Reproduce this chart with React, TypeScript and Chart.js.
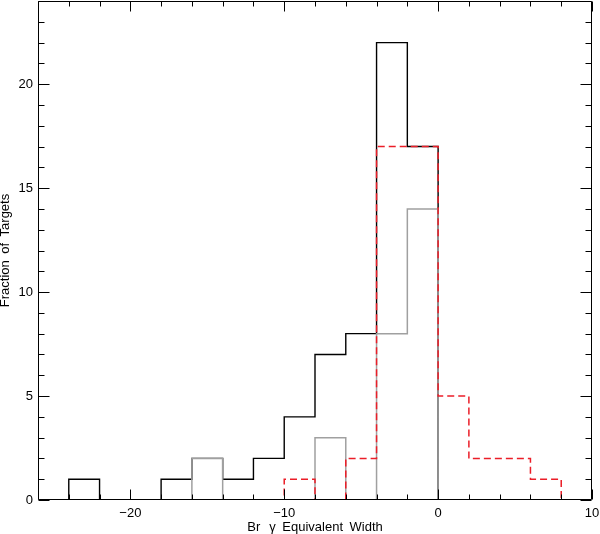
import React, { useEffect, useRef } from "react";
import { Chart, registerables } from "chart.js";

Chart.register(...registerables);

// Histogram bins: width 2, starting at -24
const binEdges = [-24, -22, -20, -18, -16, -14, -12, -10, -8, -6, -4, -2, 0, 2, 4, 6, 8];
const allTargets = [1, 0, 0, 1, 2, 1, 2, 4, 7, 8, 22, 17, 0, 0, 0, 0];
const graySubset = [0, 0, 0, 0, 2, 0, 0, 0, 3, 0, 8, 14, 0, 0, 0, 0];
const redSubset = [0, 0, 0, 0, 0, 0, 0, 1, 0, 2, 17, 17, 5, 2, 2, 1];

const xTicks = [-20, -10, 0, 10];
const yTicks = [0, 5, 10, 15, 20];
const xMinorStep = 2;
const yMinorStep = 1;
const xMin = -26, xMax = 10, yMin = 0, yMax = 24;

function stepPoints(values: number[]) {
  const pts: { x: number; y: number }[] = [{ x: binEdges[0], y: 0 }];
  values.forEach((v, i) => pts.push({ x: binEdges[i], y: v }));
  pts.push({ x: binEdges[binEdges.length - 1], y: 0 });
  return pts;
}

const zeroPad = (s: any) => {
  s.paddingLeft = 0; s.paddingRight = 0; s.paddingTop = 0; s.paddingBottom = 0;
};

const frameTicks = {
  id: "frameTicks",
  afterDraw(chart: any) {
    const { ctx, chartArea: a, scales } = chart;
    const x = scales.x, y = scales.y;
    ctx.save();
    ctx.strokeStyle = "#000";
    ctx.lineWidth = 1;
    const L = Math.round(a.left) + 0.5, R = Math.round(a.right) - 0.5;
    const T = Math.round(a.top) + 0.5, B = Math.round(a.bottom) - 0.5;
    ctx.beginPath();
    ctx.rect(L, T, R - L, B - T);
    ctx.stroke();
    const majL = 10, minL = 5;
    ctx.beginPath();
    for (let v = xMin; v <= xMax + 1e-9; v += xMinorStep) {
      const px = Math.round(x.getPixelForValue(v)) + 0.5;
      const len = xTicks.includes(v) ? majL : minL;
      ctx.moveTo(px, B); ctx.lineTo(px, B - len);
      ctx.moveTo(px, T); ctx.lineTo(px, T + len);
    }
    for (let v = yMin; v <= yMax + 1e-9; v += yMinorStep) {
      const py = Math.round(y.getPixelForValue(v)) + 0.5;
      const len = yTicks.includes(v) ? majL + 1 : minL + 1;
      ctx.moveTo(L, py); ctx.lineTo(L + len, py);
      ctx.moveTo(R, py); ctx.lineTo(R - len, py);
    }
    ctx.stroke();
    ctx.restore();
  },
};

export default function App() {
  const ref = useRef<HTMLCanvasElement | null>(null);
  useEffect(() => {
    if (!ref.current) return;
    const font = { family: "'Liberation Sans', Arial, sans-serif", size: 13 };
    const chart = new Chart(ref.current, {
      type: "line",
      data: {
        datasets: [
          {
            data: stepPoints(allTargets),
            borderColor: "#000000",
            borderWidth: 1.4,
            stepped: "before",
            pointRadius: 0,
            fill: false,
            order: 2,
          },
          {
            data: stepPoints(graySubset),
            borderColor: "#a0a0a0",
            borderWidth: 1.5,
            stepped: "before",
            pointRadius: 0,
            fill: false,
            order: 1,
          },
          {
            data: stepPoints(redSubset),
            borderColor: "rgb(235,30,40)",
            borderWidth: 1.5,
            borderDash: [7, 4],
            stepped: "before",
            pointRadius: 0,
            fill: false,
            order: 0,
          },
        ],
      },
      options: {
        animation: false,
        responsive: false,
        devicePixelRatio: 1,
        layout: { padding: { top: 1, right: 8, left: 0, bottom: 0 } },
        plugins: { legend: { display: false }, tooltip: { enabled: false } },
        scales: {
          x: {
            type: "linear",
            min: xMin,
            max: xMax,
            grid: { display: false, drawTicks: false },
            border: { display: false },
            afterBuildTicks: (s: any) => { s.ticks = xTicks.map((v) => ({ value: v })); },
            afterFit: (s: any) => { s.height = 34; zeroPad(s); },
            ticks: {
              color: "#000",
              font,
              padding: 6,
              maxRotation: 0,
              autoSkip: false,
              callback: (v: any) => (Number(v) < 0 ? "\u2212" + Math.abs(Number(v)) : String(v)),
            },
            title: {
              display: true,
              text: "Br\u2002\u2009\u03b3\u2002Equivalent\u2002Width",
              color: "#000",
              font,
              padding: { top: 0, bottom: -1 },
            },
          },
          y: {
            type: "linear",
            min: yMin,
            max: yMax,
            grid: { display: false, drawTicks: false },
            border: { display: false },
            afterBuildTicks: (s: any) => { s.ticks = yTicks.map((v) => ({ value: v })); },
            afterFit: (s: any) => { s.width = 38; zeroPad(s); },
            ticks: { color: "#000", font, padding: 5, autoSkip: false },
            title: {
              display: true,
              text: "Fraction\u2002of\u2002Targets",
              color: "#000",
              font,
              padding: { top: -2, bottom: 0 },
            },
          },
        },
      },
      plugins: [frameTicks],
    } as any);
    return () => chart.destroy();
  }, []);
  return (
    <div style={{ position: "absolute", left: 0, top: 0, width: 600, height: 534, background: "#fff" }}>
      <canvas ref={ref} width={600} height={534} />
    </div>
  );
}
